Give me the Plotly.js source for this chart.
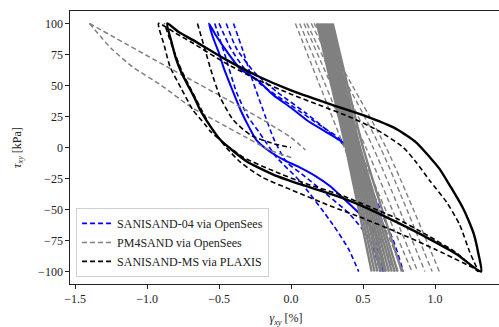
<!DOCTYPE html>
<html><head><meta charset="utf-8">
<script src="https://cdn.plot.ly/plotly-3.0.1.min.js"></script>
<style>html,body{margin:0;padding:0;overflow:hidden;background:#fff}#chart{width:503px;height:327px}</style>
</head><body><div id="chart"></div>
<script>
// ---------- SANISAND-04 via OpenSees (blue) ----------
const blSolidX = [0.42,0.36,0.25,0.11,0.00,-0.12,-0.24,-0.35,-0.45,-0.52,-0.57,-0.54,-0.50,-0.47,-0.41,-0.35,-0.29,-0.24,-0.15,-0.05,0.06,0.17,0.27,0.41,0.50,0.60,0.64];
const blSolidY = [-4,4,12,22,32,42,55,63,78,90,100,88,76,65,47,30,16,6,-3,-10,-16,-23,-31,-46,-56,-73,-100];
const blDash1X = [-0.50,-0.42,-0.32,-0.20,0.00,0.20,0.36,0.44,0.53,0.58,0.62,0.63];
const blDash1Y = [100,80,63,50,34,18,5,-12,-40,-65,-97,-100];
const blDash2X = [-0.40,-0.34,-0.27,-0.20,-0.12,-0.03,0.06,0.25,0.41,0.55,0.62];
const blDash2Y = [100,80,55,32,7,-12,-20,-38,-54,-75,-100];
const blDash3X = [-0.53,-0.46,-0.38,-0.30,-0.22,-0.10,0.06,0.29,0.40,0.47];
const blDash3Y = [100,75,45,25,12,-8,-27,-62,-82,-100];
const blDash4X = [-0.45,-0.38,-0.25,-0.10,0.10,0.27,0.41,0.52,0.62,0.72,0.78];
const blDash4Y = [100,80,60,45,28,12,-3,-25,-50,-78,-100];

// ---------- PM4SAND via OpenSees (gray) ----------
const gDashAX = [-1.40,-0.86,-0.31,0.00,0.10];
const gDashAY = [100,65,30,8,-2];
const gDashBX = [-1.40,-1.25,-1.10,-0.90,-0.70,-0.50,-0.31,-0.15,0.00];
const gDashBY = [100,80,65,50,33,20,8,-2,-8];
// steep dashed lines: strain at tau = 100, 0, -100
const gSteepTop = [0.03,0.06,0.09,0.11,0.14,0.16,0.18];
const gSteepMid = [0.37,0.42,0.47,0.52,0.57,0.62,0.66];
const gSteepBot = [0.72,0.78,0.84,0.88,0.93,0.98,1.03];
// dense solid band: strain at tau = 100, 0, -100
const gBandTop = [0.18,0.19,0.20,0.21,0.22,0.23,0.24,0.25,0.26,0.27,0.28,0.29];
const gBandMid = [0.38,0.39,0.40,0.41,0.42,0.43,0.44,0.45,0.46,0.47,0.48,0.50];
const gBandBot = [0.56,0.58,0.60,0.62,0.63,0.65,0.66,0.68,0.70,0.72,0.74,0.77];
const tauLevels = [100,0,-100];

// ---------- SANISAND-MS via PLAXIS (black) ----------
const msSolidX = [-0.86,-0.83,-0.80,-0.76,-0.72,-0.67,-0.63,-0.56,-0.49,-0.40,-0.31,-0.12,0.10,0.34,0.55,0.73,0.95,1.15,1.32,1.30,1.27,1.23,1.19,1.11,1.03,0.965,0.87,0.73,0.50,0.27,0.00,-0.24,-0.47,-0.68,-0.78,-0.86];
const msSolidY = [100,85,72,60,51,40,30,17,6,-3,-11,-22,-31,-40,-50,-60,-73,-86,-100,-85,-70,-58,-48,-32,-17,-8,4,15,26,35,46,58,72,86.5,93,100];
const msDash1X = [-0.92,-0.88,-0.84,-0.76,-0.68,-0.60,-0.56,-0.45,-0.33,-0.12,0.10,0.34,0.55,0.73,0.95,1.15,1.30,1.27,1.24,1.17,1.08,0.965,0.87,0.78,0.60,0.40,0.20,0.00,-0.24,-0.47,-0.68,-0.80,-0.92];
const msDash1Y = [100,82,65,47,30,19,13,2,-8,-19,-29,-38,-48,-57,-71,-85,-100,-92,-84,-62,-44,-27,-12,0,14,25,34,43,55,69,84,92,100];
const msDash2X = [1.32,1.00,0.73,0.50,0.27,0.00,-0.20,-0.35,-0.45,-0.55,-0.62,-0.70,-0.76,-0.82,-0.88];
const msDash2Y = [-100,-82,-68,-57,-47,-34,-24,-12,0,15,30,48,62,80,100];
const msDash3X = [-0.65,-0.60,-0.55,-0.49,-0.40,-0.28,-0.12,0.00];
const msDash3Y = [100,80,60,40,22,10,3,0];

const DASH = '5px,3px';
const traces = [];
function add(x, y, color, width, dash, name, legend) {
  traces.push({type:'scatter', mode:'lines', x:x, y:y, name:name||'', showlegend:!!legend,
    line:{color:color, width:width, dash:dash, shape:'spline', smoothing:0.6}, hoverinfo:'skip'});
}
const BLUE = '#0000ff', GRAY = '#808080', BLACK = '#000000';
add(blDash1X, blDash1Y, BLUE, 1.6, DASH, 'SANISAND-04 via OpenSees', true);
add(blDash2X, blDash2Y, BLUE, 1.6, DASH);
add(blDash3X, blDash3Y, BLUE, 1.6, DASH);
add(blDash4X, blDash4Y, BLUE, 1.6, DASH);
add(blSolidX, blSolidY, BLUE, 2, 'solid');

add(gDashAX, gDashAY, GRAY, 1.5, DASH, 'PM4SAND via OpenSees', true);
add(gDashBX, gDashBY, GRAY, 1.5, DASH);
for (let i = 0; i < gBandTop.length; i++) {
  add([gBandTop[i], gBandMid[i], gBandBot[i]], tauLevels, GRAY, 2.4, 'solid');
}
for (let i = 0; i < gSteepTop.length; i++) {
  add([gSteepTop[i], gSteepMid[i], gSteepBot[i]], tauLevels, GRAY, 1.4, DASH);
}

add(msDash1X, msDash1Y, BLACK, 1.6, DASH, 'SANISAND-MS via PLAXIS', true);
add(msDash2X, msDash2Y, BLACK, 1.6, DASH);
add(msDash3X, msDash3Y, BLACK, 1.6, DASH);
add(msSolidX, msSolidY, BLACK, 2.4, 'solid');

const xTicks = [-1.5,-1.0,-0.5,0.0,0.5,1.0];
const xTickText = ['\u22121.5','\u22121.0','\u22120.5','0.0','0.5','1.0'];
const yTicks = [-100,-75,-50,-25,0,25,50,75,100];
const yTickText = ['\u2212100','\u221275','\u221250','\u221225','0','25','50','75','100'];

const FONT = 'Liberation Serif';
const layout = {
  width: 503, height: 327,
  margin: {l:70, r:1, t:11, b:43},
  paper_bgcolor:'#fff', plot_bgcolor:'#fff',
  font: {family: FONT, size: 12, color:'#222'},
  xaxis: {range:[-1.535,1.465], tickvals:xTicks, ticktext:xTickText, ticks:'outside', ticklen:3.5, tickwidth:1, tickcolor:'#222',
    tickfont:{family:FONT, size:12, color:'#222'},
    showgrid:false, zeroline:false, showline:true, mirror:true, linecolor:'#222', linewidth:1.2,
    title:{text:'<i>γ</i><sub><i>xy</i></sub> [%]', font:{family:FONT, size:12, color:'#222'}, standoff:10}, automargin:false},
  yaxis: {range:[-110,110], tickvals:yTicks, ticktext:yTickText, ticks:'outside', ticklen:3.5, tickwidth:1, tickcolor:'#222',
    tickfont:{family:FONT, size:12, color:'#222'},
    showgrid:false, zeroline:false, showline:true, mirror:true, linecolor:'#222', linewidth:1.2,
    title:{text:'<i>τ</i><sub><i>xy</i></sub> [kPa]', font:{family:FONT, size:12, color:'#222'}, standoff:14}, automargin:false},
  legend: {x:0.014, y:0.026, xanchor:'left', yanchor:'bottom', bgcolor:'rgba(255,255,255,0.85)', bordercolor:'#d0d0d0', borderwidth:1,
    font:{family:FONT, size:12, color:'#222'}, traceorder:'normal', tracegroupgap:0},
  showlegend: true
};
Plotly.newPlot('chart', traces, layout, {staticPlot:true, displayModeBar:false});
</script></body></html>
